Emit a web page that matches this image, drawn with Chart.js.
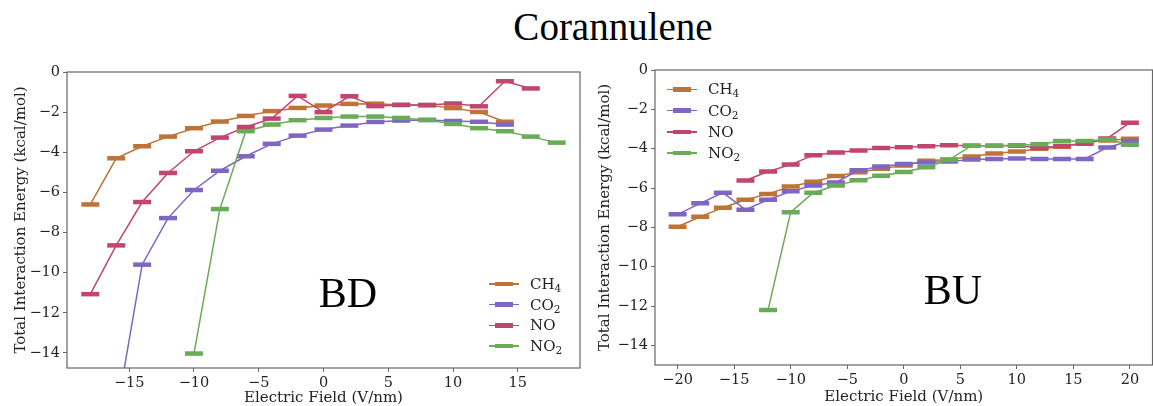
<!DOCTYPE html>
<html>
<head>
<meta charset="utf-8">
<script src="https://cdn.jsdelivr.net/npm/chart.js@4.4.0/dist/chart.umd.min.js"></script>
<style>
    html, body { margin: 0; padding: 0; background: #fff; overflow: hidden; }
    #page { position: relative; width: 1153px; height: 406px; overflow: hidden; }
    .title {
        position: absolute; left: 613px; top: 7px; transform: translateX(-50%);
        font-family: "Liberation Serif", serif; font-size: 39px; line-height: 39px;
        white-space: nowrap; color: #000;
    }
    .panel-label {
        position: absolute; transform: translate(-50%, -50%);
        font-family: "Liberation Serif", serif; font-size: 42px; line-height: 42px;
        white-space: nowrap; color: #000;
    }
    .chart-box { position: absolute; top: 0; }
    .legend-row {
        position: absolute; height: 20px; display: flex; align-items: center;
        font-family: "DejaVu Serif", serif; font-size: 15px; line-height: 20px; color: #222;
    }
    .swatch { position: relative; width: 30px; height: 20px; margin-right: 11px; }
    .swatch .ln { position: absolute; left: 0; right: 0; top: 9.25px; height: 1.5px; }
    .swatch .mk { position: absolute; left: 6px; width: 18px; top: 7.75px; height: 4.5px; }
    .legend-row sub { font-size: 70%; vertical-align: -0.3em; line-height: 0; }
</style>
</head>
<body>
<div id="page">
    <div class="title">Corannulene</div>
    <div class="chart-box" style="left:0px"><canvas id="bdChart" width="595" height="406" style="width:595px;height:406px"></canvas></div>
    <div class="chart-box" style="left:595px"><canvas id="buChart" width="571" height="406" style="width:571px;height:406px"></canvas></div>
    <div class="panel-label" style="left:348px; top:293px">BD</div>
    <div class="panel-label" style="left:953px; top:290px">BU</div>
    <div id="bdLegend"></div>
    <div id="buLegend"></div>
</div>

<script>
// Series names and colours
const seriesNames = ['CH4', 'CO2', 'NO', 'NO2'];
const seriesColors = ['#bf7337', '#7f66c2', '#c0456f', '#6aab58'];

// BD panel (field in V/nm, energy in kcal/mol)
const bdFieldCH4 = [-18, -16, -14, -12, -10, -8, -6, -4, -2, 0, 2, 4, 6, 8, 10, 12, 14];
const bdEnergyCH4 = [-6.6, -4.3, -3.7, -3.22, -2.8, -2.47, -2.19, -1.95, -1.79, -1.67, -1.59, -1.58, -1.64, -1.66, -1.8, -1.99, -2.48];
const bdFieldCO2 = [-16, -14, -12, -10, -8, -6, -4, -2, 0, 2, 4, 6, 8, 10, 12, 14];
const bdEnergyCO2 = [-17.1, -9.6, -7.28, -5.88, -4.92, -4.2, -3.58, -3.17, -2.87, -2.67, -2.49, -2.42, -2.39, -2.44, -2.48, -2.62];
const bdFieldNO = [-18, -16, -14, -12, -10, -8, -6, -4, -2, 0, 2, 4, 6, 8, 10, 12, 14, 16];
const bdEnergyNO = [-11.07, -8.64, -6.48, -5.03, -3.95, -3.27, -2.74, -2.32, -1.19, -2.0, -1.21, -1.7, -1.64, -1.64, -1.57, -1.71, -0.46, -0.82];
const bdFieldNO2 = [-10, -8, -6, -4, -2, 0, 2, 4, 6, 8, 10, 12, 14, 16, 18];
const bdEnergyNO2 = [-14.03, -6.83, -2.95, -2.62, -2.4, -2.29, -2.22, -2.22, -2.29, -2.39, -2.59, -2.8, -2.95, -3.22, -3.52];

// BU panel
const buFieldCH4 = [-20, -18, -16, -14, -12, -10, -8, -6, -4, -2, 0, 2, 4, 6, 8, 10, 12, 14, 16, 18, 20];
const buEnergyCH4 = [-7.97, -7.46, -7.0, -6.6, -6.3, -5.92, -5.68, -5.39, -5.2, -5.02, -4.85, -4.61, -4.55, -4.4, -4.24, -4.14, -4.0, -3.9, -3.68, -3.58, -3.5];
const buFieldCO2 = [-20, -18, -16, -14, -12, -10, -8, -6, -4, -2, 0, 2, 4, 6, 8, 10, 12, 14, 16, 18, 20];
const buEnergyCO2 = [-7.34, -6.78, -6.24, -7.1, -6.6, -6.17, -5.87, -5.72, -5.1, -4.91, -4.78, -4.7, -4.65, -4.55, -4.53, -4.5, -4.52, -4.52, -4.52, -3.94, -3.61];
const buFieldNO = [-14, -12, -10, -8, -6, -4, -2, 0, 2, 4, 6, 8, 10, 12, 14, 16, 18, 20];
const buEnergyNO = [-5.62, -5.16, -4.81, -4.33, -4.19, -4.09, -3.96, -3.93, -3.88, -3.82, -3.85, -3.85, -3.85, -3.95, -3.87, -3.75, -3.48, -2.68];
const buFieldNO2 = [-12, -10, -8, -6, -4, -2, 0, 2, 4, 6, 8, 10, 12, 14, 16, 18, 20];
const buEnergyNO2 = [-12.2, -7.23, -6.24, -5.87, -5.6, -5.38, -5.19, -4.94, -4.57, -3.85, -3.85, -3.83, -3.78, -3.61, -3.61, -3.53, -3.8];

// Tick labels
const bdXTicks = [-15, -10, -5, 0, 5, 10, 15];
const buXTicks = [-20, -15, -10, -5, 0, 5, 10, 15, 20];
const yTicks = [0, -2, -4, -6, -8, -10, -12, -14];

const tickFont = { family: 'DejaVu Serif', size: 14.5 };
const labelFont = { family: 'DejaVu Serif', size: 15, lineHeight: 1 };

function minus(v) {
    return String(v).replace('-', '\u2212');
}

// draws the four spines like matplotlib
const framePlugin = {
    id: 'frame',
    afterDraw(chart) {
        const a = chart.chartArea;
        const ctx = chart.ctx;
        ctx.save();
        ctx.strokeStyle = '#666';
        ctx.lineWidth = 1.2;
        ctx.strokeRect(a.left, a.top, a.right - a.left, a.bottom - a.top);
        ctx.restore();
    }
};

function makeDatasets(fields, energies) {
    return fields.map((xs, i) => ({
        label: seriesNames[i],
        data: xs.map((x, j) => ({ x: x, y: energies[i][j] })),
        borderColor: seriesColors[i],
        backgroundColor: seriesColors[i],
        borderWidth: 1.5,
        pointStyle: 'line',
        pointRadius: 9,
        pointBorderWidth: 4.5,
        pointBorderColor: seriesColors[i],
        tension: 0,
        order: fields.length - i
    }));
}

function makePanel(id, datasets, xTicks, xMin, xMax, yMin, geo) {
    new Chart(document.getElementById(id), {
        type: 'line',
        data: { datasets: datasets },
        plugins: [framePlugin],
        options: {
            responsive: false,
            animation: false,
            events: [],
            layout: { padding: { left: 0, right: geo.right, top: geo.top, bottom: 0 } },
            plugins: { legend: { display: false }, tooltip: { enabled: false } },
            scales: {
                x: {
                    type: 'linear',
                    min: xMin,
                    max: xMax,
                    afterBuildTicks: s => { s.ticks = xTicks.map(v => ({ value: v })); },
                    afterFit: s => { s.height = geo.xHeight; },
                    border: { display: false },
                    grid: { drawOnChartArea: false, drawTicks: true, tickLength: 4, color: '#666', tickWidth: 1 },
                    ticks: { autoSkip: false, maxRotation: 0, padding: 3, color: '#222', font: tickFont, callback: minus },
                    title: { display: true, text: 'Electric Field (V/nm)', color: '#222', font: labelFont, padding: { top: 0, bottom: geo.xTitlePad } }
                },
                y: {
                    type: 'linear',
                    min: yMin,
                    max: 0,
                    afterBuildTicks: s => { s.ticks = yTicks.map(v => ({ value: v })); },
                    afterFit: s => { s.width = geo.yWidth; },
                    border: { display: false },
                    grid: { drawOnChartArea: false, drawTicks: true, tickLength: 4, color: '#666', tickWidth: 1 },
                    ticks: { padding: 3, color: '#222', font: tickFont, callback: minus },
                    title: { display: true, text: 'Total Interaction Energy (kcal/mol)', color: '#222', font: labelFont, padding: { top: geo.yTitlePad, bottom: 0 } }
                }
            }
        }
    });
}

function makeLegend(id, left, tops) {
    const box = document.getElementById(id);
    seriesNames.forEach((name, i) => {
        const row = document.createElement('div');
        row.className = 'legend-row';
        row.style.left = left + 'px';
        row.style.top = (tops[i] - 10) + 'px';
        const text = name.replace(/(\d)/, '<sub>$1</sub>');
        row.innerHTML = `<div class="swatch"><div class="ln" style="background:${seriesColors[i]}"></div>` +
            `<div class="mk" style="background:${seriesColors[i]}"></div></div><span>${text}</span>`;
        box.appendChild(row);
    });
}

makePanel('bdChart',
    makeDatasets([bdFieldCH4, bdFieldCO2, bdFieldNO, bdFieldNO2], [bdEnergyCH4, bdEnergyCO2, bdEnergyNO, bdEnergyNO2]),
    bdXTicks, -19.8, 19.8, -14.75,
    { right: 15, top: 72, xHeight: 38, yWidth: 67, xTitlePad: 0.5, yTitlePad: 14 });

makePanel('buChart',
    makeDatasets([buFieldCH4, buFieldCO2, buFieldNO, buFieldNO2], [buEnergyCH4, buEnergyCO2, buEnergyNO, buEnergyNO2]),
    buXTicks, -22, 22, -15,
    { right: 5, top: 70, xHeight: 41, yWidth: 60, xTitlePad: 1.5, yTitlePad: 3 });

makeLegend('bdLegend', 489, [284, 304.7, 325.3, 346]);
makeLegend('buLegend', 667, [89.3, 110.6, 131.9, 153.2]);
</script>
</body>
</html>
